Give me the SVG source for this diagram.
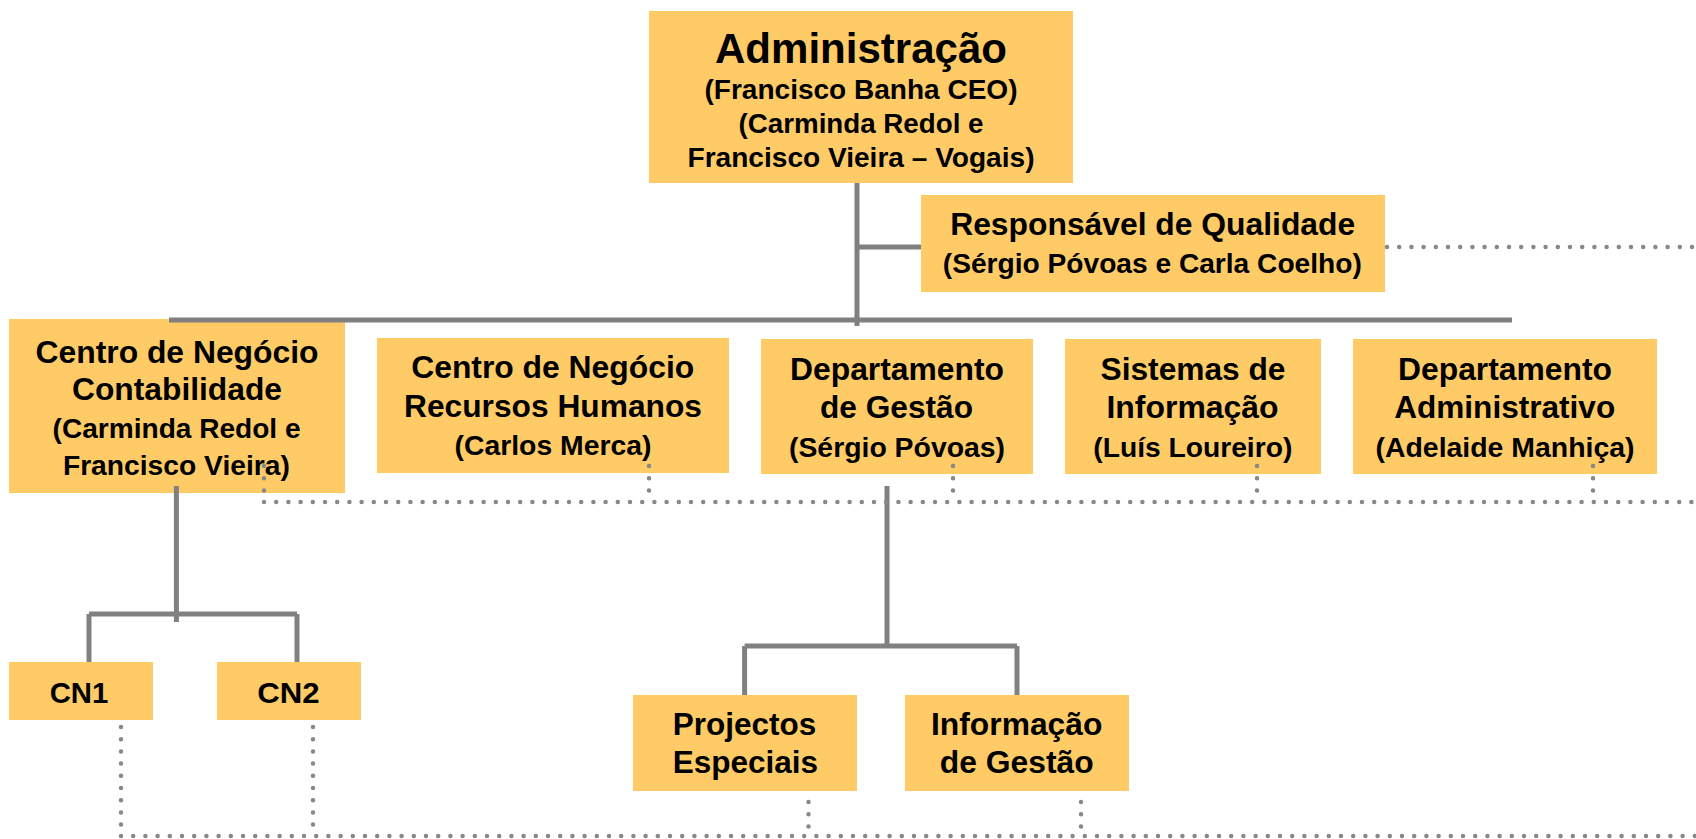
<svg xmlns="http://www.w3.org/2000/svg" width="1696" height="839" viewBox="0 0 1696 839">
<style>
.box{fill:#FECB66}
text{font-family:"Liberation Sans",Arial,sans-serif;font-weight:bold;fill:#000;text-anchor:middle}
.solid{stroke:#808080;stroke-width:5;fill:none}
.dot{stroke:#888;stroke-width:4.5;stroke-linecap:round;stroke-dasharray:0 12.2;fill:none}
</style>
<rect width="1696" height="839" fill="#fff"/>
<g id="admin">
<rect class="box" x="649" y="11" width="424" height="172"/>
<text x="861" y="63" font-size="42" textLength="292" lengthAdjust="spacingAndGlyphs">Administração</text>
<text x="861" y="99" font-size="27" textLength="313" lengthAdjust="spacingAndGlyphs">(Francisco Banha CEO)</text>
<text x="861" y="133" font-size="27" textLength="245" lengthAdjust="spacingAndGlyphs">(Carminda Redol e</text>
<text x="861" y="167" font-size="27" textLength="347" lengthAdjust="spacingAndGlyphs">Francisco Vieira – Vogais)</text>
</g>
<g id="qualidade">
<rect class="box" x="921" y="195" width="464" height="97"/>
<text x="1152.7" y="235" font-size="31" textLength="405" lengthAdjust="spacingAndGlyphs">Responsável de Qualidade</text>
<text x="1152.3" y="273" font-size="27" textLength="419" lengthAdjust="spacingAndGlyphs">(Sérgio Póvoas e Carla Coelho)</text>
</g>
<g id="contabilidade">
<rect class="box" x="9" y="319" width="336" height="174"/>
<text x="177" y="363" font-size="31" textLength="283" lengthAdjust="spacingAndGlyphs">Centro de Negócio</text>
<text x="177" y="400" font-size="31" textLength="210" lengthAdjust="spacingAndGlyphs">Contabilidade</text>
<text x="176.6" y="438" font-size="28" textLength="248" lengthAdjust="spacingAndGlyphs">(Carminda Redol e</text>
<text x="176.4" y="475" font-size="28" textLength="227" lengthAdjust="spacingAndGlyphs">Francisco Vieira)</text>
</g>
<g id="rh">
<rect class="box" x="377" y="338" width="352" height="135"/>
<text x="552.7" y="378" font-size="31" textLength="283" lengthAdjust="spacingAndGlyphs">Centro de Negócio</text>
<text x="553" y="417" font-size="31" textLength="298" lengthAdjust="spacingAndGlyphs">Recursos Humanos</text>
<text x="553" y="455" font-size="28" textLength="197" lengthAdjust="spacingAndGlyphs">(Carlos Merca)</text>
</g>
<g id="gestao">
<rect class="box" x="761" y="339" width="272" height="135"/>
<text x="897" y="380" font-size="31" textLength="214" lengthAdjust="spacingAndGlyphs">Departamento</text>
<text x="896.5" y="418" font-size="31" textLength="153" lengthAdjust="spacingAndGlyphs">de Gestão</text>
<text x="897" y="457" font-size="27" textLength="216" lengthAdjust="spacingAndGlyphs">(Sérgio Póvoas)</text>
</g>
<g id="sistemas">
<rect class="box" x="1065" y="339" width="256" height="135"/>
<text x="1193" y="380" font-size="31" textLength="185" lengthAdjust="spacingAndGlyphs">Sistemas de</text>
<text x="1192.5" y="418" font-size="31" textLength="172" lengthAdjust="spacingAndGlyphs">Informação</text>
<text x="1192.8" y="457" font-size="28" textLength="199" lengthAdjust="spacingAndGlyphs">(Luís Loureiro)</text>
</g>
<g id="administrativo">
<rect class="box" x="1353" y="339" width="304" height="135"/>
<text x="1505" y="380" font-size="31" textLength="214" lengthAdjust="spacingAndGlyphs">Departamento</text>
<text x="1504.7" y="418" font-size="31" textLength="221" lengthAdjust="spacingAndGlyphs">Administrativo</text>
<text x="1505" y="457" font-size="28" textLength="259" lengthAdjust="spacingAndGlyphs">(Adelaide Manhiça)</text>
</g>
<g id="cn1">
<rect class="box" x="9" y="662" width="144" height="58"/>
<text x="79" y="703" font-size="30" textLength="58.6" lengthAdjust="spacingAndGlyphs">CN1</text>
</g>
<g id="cn2">
<rect class="box" x="217" y="662" width="144" height="58"/>
<text x="288.4" y="703" font-size="30" textLength="62.4" lengthAdjust="spacingAndGlyphs">CN2</text>
</g>
<g id="projectos">
<rect class="box" x="633" y="695" width="224" height="96"/>
<text x="744.5" y="735" font-size="31" textLength="143.5" lengthAdjust="spacingAndGlyphs">Projectos</text>
<text x="745.4" y="773" font-size="31" textLength="145.4" lengthAdjust="spacingAndGlyphs">Especiais</text>
</g>
<g id="informacao">
<rect class="box" x="905" y="695" width="224" height="96"/>
<text x="1016.7" y="735" font-size="31" textLength="171.4" lengthAdjust="spacingAndGlyphs">Informação</text>
<text x="1016.7" y="773" font-size="31" textLength="153.8" lengthAdjust="spacingAndGlyphs">de Gestão</text>
</g>
<g id="connectors">
<path class="solid" d="M857 183V326M857 247H921M169 320H1512"/>
<path class="solid" d="M176.4 486V622M89 614H297M89 614V662M297 614V662"/>
<path class="solid" d="M887 486V648M744.6 646H1017M744.6 646V695M1017 646V695"/>
<path class="dot" d="M1387 247H1696"/>
<path class="dot" d="M264 502H1696M264 466V502M649 466V502M953 466V502M1257 466V502M1593 466V502"/>
<path class="dot" d="M121 836H1696M121 727V836M313 727V836M808.5 802V836M1081 802V836"/>
</g>
</svg>
